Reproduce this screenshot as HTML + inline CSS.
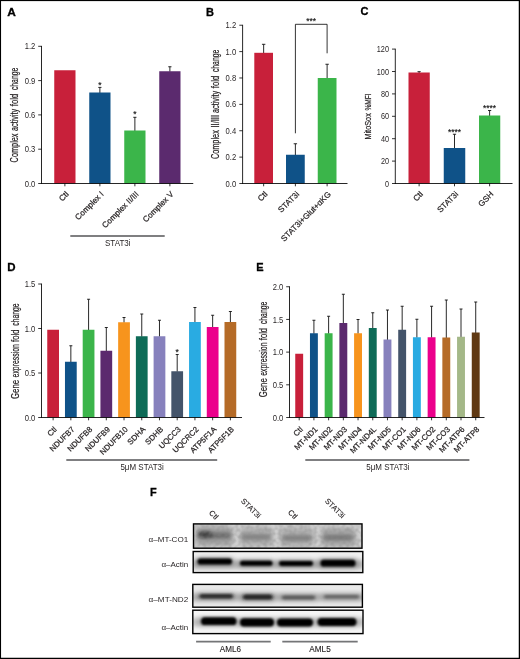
<!DOCTYPE html>
<html lang="en"><head><meta charset="utf-8"><title>Figure</title>
<style>html,body{margin:0;padding:0;background:#fff}svg{display:block}text{font-family:'Liberation Sans', sans-serif}</style>
</head><body>
<svg width="520" height="659" viewBox="0 0 520 659">
<defs>
<filter id="b1" x="-20%" y="-80%" width="140%" height="260%"><feGaussianBlur stdDeviation="1.1 0.9"/></filter>
<filter id="b2" x="-20%" y="-80%" width="140%" height="260%"><feGaussianBlur stdDeviation="2.2 1.8"/></filter>
<filter id="b3" x="-20%" y="-80%" width="140%" height="260%"><feGaussianBlur stdDeviation="1.4 1.0"/></filter>
<filter id="b4" x="-30%" y="-100%" width="160%" height="300%"><feGaussianBlur stdDeviation="2.6 2.2"/></filter>
<filter id="nz" x="0" y="0" width="100%" height="100%"><feTurbulence type="fractalNoise" baseFrequency="0.28" numOctaves="1" seed="11"/><feColorMatrix type="matrix" values="0 0 0 0 0.25  0 0 0 0 0.25  0 0 0 0 0.25  0.9 0 0 0 -0.32"/><feGaussianBlur stdDeviation="0.4"/></filter>
</defs>
<rect x="0" y="0" width="520" height="659" fill="#fff"/>
<text x="7.30" y="15.80" font-size="11" text-anchor="start" font-weight="bold" fill="#000" textLength="8.60" lengthAdjust="spacingAndGlyphs" stroke="#000" stroke-width="0.3">A</text>
<text x="206.00" y="15.80" font-size="11" text-anchor="start" font-weight="bold" fill="#000" stroke="#000" stroke-width="0.3">B</text>
<text x="360.60" y="15.40" font-size="11" text-anchor="start" font-weight="bold" fill="#000" stroke="#000" stroke-width="0.3">C</text>
<text x="7.20" y="270.80" font-size="11" text-anchor="start" font-weight="bold" fill="#000" textLength="8.30" lengthAdjust="spacingAndGlyphs" stroke="#000" stroke-width="0.3">D</text>
<text x="256.30" y="270.80" font-size="11" text-anchor="start" font-weight="bold" fill="#000" stroke="#000" stroke-width="0.3">E</text>
<text x="149.90" y="495.50" font-size="11" text-anchor="start" font-weight="bold" fill="#000" textLength="6.70" lengthAdjust="spacingAndGlyphs" stroke="#000" stroke-width="0.3">F</text>
<line x1="41.50" y1="45.90" x2="41.50" y2="183.90" stroke="#000" stroke-width="0.85"/>
<line x1="38.20" y1="183.50" x2="41.50" y2="183.50" stroke="#000" stroke-width="0.8"/>
<text x="35.30" y="186.60" font-size="8.8" text-anchor="end" font-weight="normal" fill="#231f20" textLength="10.60" lengthAdjust="spacingAndGlyphs">0.0</text>
<line x1="38.20" y1="149.20" x2="41.50" y2="149.20" stroke="#000" stroke-width="0.8"/>
<text x="35.30" y="152.30" font-size="8.8" text-anchor="end" font-weight="normal" fill="#231f20" textLength="10.60" lengthAdjust="spacingAndGlyphs">0.3</text>
<line x1="38.20" y1="114.90" x2="41.50" y2="114.90" stroke="#000" stroke-width="0.8"/>
<text x="35.30" y="118.00" font-size="8.8" text-anchor="end" font-weight="normal" fill="#231f20" textLength="10.60" lengthAdjust="spacingAndGlyphs">0.6</text>
<line x1="38.20" y1="80.60" x2="41.50" y2="80.60" stroke="#000" stroke-width="0.8"/>
<text x="35.30" y="83.70" font-size="8.8" text-anchor="end" font-weight="normal" fill="#231f20" textLength="10.60" lengthAdjust="spacingAndGlyphs">0.9</text>
<line x1="38.20" y1="46.30" x2="41.50" y2="46.30" stroke="#000" stroke-width="0.8"/>
<text x="35.30" y="49.40" font-size="8.8" text-anchor="end" font-weight="normal" fill="#231f20" textLength="10.60" lengthAdjust="spacingAndGlyphs">1.2</text>
<rect x="54.25" y="70.25" width="21.25" height="113.25" fill="#c8203a"/>
<line x1="99.88" y1="87.40" x2="99.88" y2="93.00" stroke="#111" stroke-width="0.9"/>
<line x1="98.28" y1="87.40" x2="101.47" y2="87.40" stroke="#111" stroke-width="0.9"/>
<rect x="89.25" y="92.50" width="21.25" height="91.00" fill="#0f5288"/>
<text x="99.88" y="87.62" font-size="8.4" text-anchor="middle" font-weight="normal" fill="#111" stroke="#111" stroke-width="0.15">*</text>
<line x1="134.88" y1="117.30" x2="134.88" y2="131.00" stroke="#111" stroke-width="0.9"/>
<line x1="133.28" y1="117.30" x2="136.47" y2="117.30" stroke="#111" stroke-width="0.9"/>
<rect x="124.25" y="130.50" width="21.25" height="53.00" fill="#3bb54a"/>
<text x="134.88" y="117.02" font-size="8.4" text-anchor="middle" font-weight="normal" fill="#111" stroke="#111" stroke-width="0.15">*</text>
<line x1="169.88" y1="66.75" x2="169.88" y2="71.75" stroke="#111" stroke-width="0.9"/>
<line x1="168.28" y1="66.75" x2="171.47" y2="66.75" stroke="#111" stroke-width="0.9"/>
<rect x="159.25" y="71.25" width="21.25" height="112.25" fill="#5b2a6e"/>
<line x1="41.10" y1="183.50" x2="193.25" y2="183.50" stroke="#000" stroke-width="0.85"/>
<line x1="64.88" y1="183.50" x2="64.88" y2="186.30" stroke="#000" stroke-width="0.8"/>
<line x1="99.88" y1="183.50" x2="99.88" y2="186.30" stroke="#000" stroke-width="0.8"/>
<line x1="134.88" y1="183.50" x2="134.88" y2="186.30" stroke="#000" stroke-width="0.8"/>
<line x1="169.88" y1="183.50" x2="169.88" y2="186.30" stroke="#000" stroke-width="0.8"/>
<text transform="translate(69.17 194.70) rotate(-45)" font-size="8.15" text-anchor="end" fill="#231f20" stroke="#231f20" stroke-width="0.22">Ctl</text>
<text transform="translate(104.17 194.70) rotate(-45)" font-size="8.15" text-anchor="end" fill="#231f20" stroke="#231f20" stroke-width="0.22">Complex I</text>
<text transform="translate(139.18 194.70) rotate(-45)" font-size="8.15" text-anchor="end" fill="#231f20" stroke="#231f20" stroke-width="0.22">Complex II/III</text>
<text transform="translate(174.18 194.70) rotate(-45)" font-size="8.15" text-anchor="end" fill="#231f20" stroke="#231f20" stroke-width="0.22">Complex V</text>
<line x1="70.30" y1="236.00" x2="164.70" y2="236.00" stroke="#555557" stroke-width="1.7"/>
<text x="117.75" y="246.30" font-size="8.3" text-anchor="middle" font-weight="normal" fill="#231f20" textLength="25.50" lengthAdjust="spacingAndGlyphs">STAT3i</text>
<text transform="translate(17.50 162.40) rotate(-90)" font-size="10" text-anchor="start" fill="#231f20" stroke="#231f20" stroke-width="0.22" textLength="28.90" lengthAdjust="spacingAndGlyphs">Complex</text>
<text transform="translate(17.50 131.00) rotate(-90)" font-size="10" text-anchor="start" fill="#231f20" stroke="#231f20" stroke-width="0.22" textLength="22.10" lengthAdjust="spacingAndGlyphs">activity</text>
<text transform="translate(17.50 106.20) rotate(-90)" font-size="10" text-anchor="start" fill="#231f20" stroke="#231f20" stroke-width="0.22" textLength="12.50" lengthAdjust="spacingAndGlyphs">fold</text>
<text transform="translate(17.50 90.10) rotate(-90)" font-size="10" text-anchor="start" fill="#231f20" stroke="#231f20" stroke-width="0.22" textLength="22.40" lengthAdjust="spacingAndGlyphs">change</text>
<line x1="242.60" y1="24.82" x2="242.60" y2="183.90" stroke="#000" stroke-width="0.85"/>
<line x1="239.30" y1="183.50" x2="242.60" y2="183.50" stroke="#000" stroke-width="0.8"/>
<text x="236.20" y="186.60" font-size="8.8" text-anchor="end" font-weight="normal" fill="#231f20" textLength="10.60" lengthAdjust="spacingAndGlyphs">0.0</text>
<line x1="239.30" y1="157.12" x2="242.60" y2="157.12" stroke="#000" stroke-width="0.8"/>
<text x="236.20" y="160.22" font-size="8.8" text-anchor="end" font-weight="normal" fill="#231f20" textLength="10.60" lengthAdjust="spacingAndGlyphs">0.2</text>
<line x1="239.30" y1="130.74" x2="242.60" y2="130.74" stroke="#000" stroke-width="0.8"/>
<text x="236.20" y="133.84" font-size="8.8" text-anchor="end" font-weight="normal" fill="#231f20" textLength="10.60" lengthAdjust="spacingAndGlyphs">0.4</text>
<line x1="239.30" y1="104.36" x2="242.60" y2="104.36" stroke="#000" stroke-width="0.8"/>
<text x="236.20" y="107.46" font-size="8.8" text-anchor="end" font-weight="normal" fill="#231f20" textLength="10.60" lengthAdjust="spacingAndGlyphs">0.6</text>
<line x1="239.30" y1="77.98" x2="242.60" y2="77.98" stroke="#000" stroke-width="0.8"/>
<text x="236.20" y="81.08" font-size="8.8" text-anchor="end" font-weight="normal" fill="#231f20" textLength="10.60" lengthAdjust="spacingAndGlyphs">0.8</text>
<line x1="239.30" y1="51.60" x2="242.60" y2="51.60" stroke="#000" stroke-width="0.8"/>
<text x="236.20" y="54.70" font-size="8.8" text-anchor="end" font-weight="normal" fill="#231f20" textLength="10.60" lengthAdjust="spacingAndGlyphs">1.0</text>
<line x1="239.30" y1="25.22" x2="242.60" y2="25.22" stroke="#000" stroke-width="0.8"/>
<text x="236.20" y="28.32" font-size="8.8" text-anchor="end" font-weight="normal" fill="#231f20" textLength="10.60" lengthAdjust="spacingAndGlyphs">1.2</text>
<line x1="263.65" y1="44.30" x2="263.65" y2="53.30" stroke="#111" stroke-width="0.9"/>
<line x1="261.95" y1="44.30" x2="265.35" y2="44.30" stroke="#111" stroke-width="0.9"/>
<rect x="254.30" y="52.80" width="18.70" height="130.70" fill="#c8203a"/>
<line x1="295.38" y1="143.75" x2="295.38" y2="155.25" stroke="#111" stroke-width="0.9"/>
<line x1="293.68" y1="143.75" x2="297.07" y2="143.75" stroke="#111" stroke-width="0.9"/>
<rect x="286.00" y="154.75" width="18.75" height="28.75" fill="#0f5288"/>
<line x1="327.12" y1="64.25" x2="327.12" y2="78.50" stroke="#111" stroke-width="0.9"/>
<line x1="325.43" y1="64.25" x2="328.82" y2="64.25" stroke="#111" stroke-width="0.9"/>
<rect x="317.75" y="78.00" width="18.75" height="105.50" fill="#3bb54a"/>
<line x1="242.20" y1="183.50" x2="347.50" y2="183.50" stroke="#000" stroke-width="0.85"/>
<line x1="263.65" y1="183.50" x2="263.65" y2="186.30" stroke="#000" stroke-width="0.8"/>
<line x1="295.38" y1="183.50" x2="295.38" y2="186.30" stroke="#000" stroke-width="0.8"/>
<line x1="327.12" y1="183.50" x2="327.12" y2="186.30" stroke="#000" stroke-width="0.8"/>
<text transform="translate(267.95 194.70) rotate(-45)" font-size="8.15" text-anchor="end" fill="#231f20" stroke="#231f20" stroke-width="0.22">Ctl</text>
<text transform="translate(299.68 194.70) rotate(-45)" font-size="8.15" text-anchor="end" fill="#231f20" stroke="#231f20" stroke-width="0.22">STAT3i</text>
<text transform="translate(331.43 194.70) rotate(-45)" font-size="8.15" text-anchor="end" fill="#231f20" stroke="#231f20" stroke-width="0.22">STAT3i+Glut+αKG</text>
<polyline points="295.4,133.3 295.4,24.3 327.1,24.3 327.1,53.3" fill="none" stroke="#000" stroke-width="0.8"/>
<text x="311.20" y="24.12" font-size="8.4" text-anchor="middle" font-weight="normal" fill="#111" stroke="#111" stroke-width="0.15">***</text>
<text transform="translate(219.20 159.10) rotate(-90)" font-size="10" text-anchor="start" fill="#231f20" stroke="#231f20" stroke-width="0.22" textLength="28.90" lengthAdjust="spacingAndGlyphs">Complex</text>
<text transform="translate(219.20 127.60) rotate(-90)" font-size="10" text-anchor="start" fill="#231f20" stroke="#231f20" stroke-width="0.22" textLength="12.70" lengthAdjust="spacingAndGlyphs">II/III</text>
<text transform="translate(219.20 112.90) rotate(-90)" font-size="10" text-anchor="start" fill="#231f20" stroke="#231f20" stroke-width="0.22" textLength="22.10" lengthAdjust="spacingAndGlyphs">activity</text>
<text transform="translate(219.20 88.20) rotate(-90)" font-size="10" text-anchor="start" fill="#231f20" stroke="#231f20" stroke-width="0.22" textLength="12.50" lengthAdjust="spacingAndGlyphs">fold</text>
<text transform="translate(219.20 72.10) rotate(-90)" font-size="10" text-anchor="start" fill="#231f20" stroke="#231f20" stroke-width="0.22" textLength="22.40" lengthAdjust="spacingAndGlyphs">change</text>
<line x1="395.30" y1="48.70" x2="395.30" y2="183.90" stroke="#000" stroke-width="0.85"/>
<line x1="392.00" y1="183.50" x2="395.30" y2="183.50" stroke="#000" stroke-width="0.8"/>
<text x="389.00" y="186.60" font-size="8.8" text-anchor="end" font-weight="normal" fill="#231f20" textLength="4.00" lengthAdjust="spacingAndGlyphs">0</text>
<line x1="392.00" y1="161.10" x2="395.30" y2="161.10" stroke="#000" stroke-width="0.8"/>
<text x="389.00" y="164.20" font-size="8.8" text-anchor="end" font-weight="normal" fill="#231f20" textLength="8.10" lengthAdjust="spacingAndGlyphs">20</text>
<line x1="392.00" y1="138.70" x2="395.30" y2="138.70" stroke="#000" stroke-width="0.8"/>
<text x="389.00" y="141.80" font-size="8.8" text-anchor="end" font-weight="normal" fill="#231f20" textLength="8.10" lengthAdjust="spacingAndGlyphs">40</text>
<line x1="392.00" y1="116.30" x2="395.30" y2="116.30" stroke="#000" stroke-width="0.8"/>
<text x="389.00" y="119.40" font-size="8.8" text-anchor="end" font-weight="normal" fill="#231f20" textLength="8.10" lengthAdjust="spacingAndGlyphs">60</text>
<line x1="392.00" y1="93.90" x2="395.30" y2="93.90" stroke="#000" stroke-width="0.8"/>
<text x="389.00" y="97.00" font-size="8.8" text-anchor="end" font-weight="normal" fill="#231f20" textLength="8.10" lengthAdjust="spacingAndGlyphs">80</text>
<line x1="392.00" y1="71.50" x2="395.30" y2="71.50" stroke="#000" stroke-width="0.8"/>
<text x="389.00" y="74.60" font-size="8.8" text-anchor="end" font-weight="normal" fill="#231f20" textLength="12.20" lengthAdjust="spacingAndGlyphs">100</text>
<line x1="392.00" y1="49.10" x2="395.30" y2="49.10" stroke="#000" stroke-width="0.8"/>
<text x="389.00" y="52.20" font-size="8.8" text-anchor="end" font-weight="normal" fill="#231f20" textLength="12.20" lengthAdjust="spacingAndGlyphs">120</text>
<line x1="419.12" y1="71.70" x2="419.12" y2="73.00" stroke="#111" stroke-width="0.9"/>
<line x1="417.52" y1="71.70" x2="420.73" y2="71.70" stroke="#111" stroke-width="0.9"/>
<rect x="408.50" y="72.50" width="21.25" height="111.00" fill="#c8203a"/>
<line x1="454.50" y1="134.25" x2="454.50" y2="148.50" stroke="#111" stroke-width="0.9"/>
<line x1="452.90" y1="134.25" x2="456.10" y2="134.25" stroke="#111" stroke-width="0.9"/>
<rect x="443.75" y="148.00" width="21.50" height="35.50" fill="#0f5288"/>
<text x="454.50" y="135.12" font-size="8.4" text-anchor="middle" font-weight="normal" fill="#111" stroke="#111" stroke-width="0.15">****</text>
<line x1="489.62" y1="110.50" x2="489.62" y2="116.00" stroke="#111" stroke-width="0.9"/>
<line x1="488.02" y1="110.50" x2="491.23" y2="110.50" stroke="#111" stroke-width="0.9"/>
<rect x="479.00" y="115.50" width="21.25" height="68.00" fill="#3bb54a"/>
<text x="489.62" y="111.12" font-size="8.4" text-anchor="middle" font-weight="normal" fill="#111" stroke="#111" stroke-width="0.15">****</text>
<line x1="394.90" y1="183.50" x2="512.50" y2="183.50" stroke="#000" stroke-width="0.85"/>
<line x1="419.12" y1="183.50" x2="419.12" y2="186.30" stroke="#000" stroke-width="0.8"/>
<line x1="454.50" y1="183.50" x2="454.50" y2="186.30" stroke="#000" stroke-width="0.8"/>
<line x1="489.62" y1="183.50" x2="489.62" y2="186.30" stroke="#000" stroke-width="0.8"/>
<text transform="translate(423.43 194.70) rotate(-45)" font-size="8.15" text-anchor="end" fill="#231f20" stroke="#231f20" stroke-width="0.22">Ctl</text>
<text transform="translate(458.80 194.70) rotate(-45)" font-size="8.15" text-anchor="end" fill="#231f20" stroke="#231f20" stroke-width="0.22">STAT3i</text>
<text transform="translate(493.93 194.70) rotate(-45)" font-size="8.15" text-anchor="end" fill="#231f20" stroke="#231f20" stroke-width="0.22">GSH</text>
<text transform="translate(370.90 139.60) rotate(-90)" font-size="9.7" text-anchor="start" fill="#231f20" stroke="#231f20" stroke-width="0.22" textLength="26.40" lengthAdjust="spacingAndGlyphs">MitoSox</text>
<text transform="translate(370.90 110.60) rotate(-90)" font-size="9.7" text-anchor="start" fill="#231f20" stroke="#231f20" stroke-width="0.22" textLength="17.30" lengthAdjust="spacingAndGlyphs">%MFI</text>
<line x1="41.50" y1="283.60" x2="41.50" y2="417.90" stroke="#000" stroke-width="0.85"/>
<line x1="38.20" y1="417.50" x2="41.50" y2="417.50" stroke="#000" stroke-width="0.8"/>
<text x="35.30" y="420.60" font-size="8.8" text-anchor="end" font-weight="normal" fill="#231f20" textLength="10.60" lengthAdjust="spacingAndGlyphs">0.0</text>
<line x1="38.20" y1="373.00" x2="41.50" y2="373.00" stroke="#000" stroke-width="0.8"/>
<text x="35.30" y="376.10" font-size="8.8" text-anchor="end" font-weight="normal" fill="#231f20" textLength="10.60" lengthAdjust="spacingAndGlyphs">0.5</text>
<line x1="38.20" y1="328.50" x2="41.50" y2="328.50" stroke="#000" stroke-width="0.8"/>
<text x="35.30" y="331.60" font-size="8.8" text-anchor="end" font-weight="normal" fill="#231f20" textLength="10.60" lengthAdjust="spacingAndGlyphs">1.0</text>
<line x1="38.20" y1="284.00" x2="41.50" y2="284.00" stroke="#000" stroke-width="0.8"/>
<text x="35.30" y="287.10" font-size="8.8" text-anchor="end" font-weight="normal" fill="#231f20" textLength="10.60" lengthAdjust="spacingAndGlyphs">1.5</text>
<rect x="47.25" y="329.75" width="11.75" height="87.75" fill="#c8203a"/>
<line x1="70.85" y1="345.75" x2="70.85" y2="362.25" stroke="#111" stroke-width="0.9"/>
<line x1="69.35" y1="345.75" x2="72.35" y2="345.75" stroke="#111" stroke-width="0.9"/>
<rect x="64.97" y="361.75" width="11.75" height="55.75" fill="#0f5288"/>
<line x1="88.58" y1="299.25" x2="88.58" y2="330.25" stroke="#111" stroke-width="0.9"/>
<line x1="87.08" y1="299.25" x2="90.08" y2="299.25" stroke="#111" stroke-width="0.9"/>
<rect x="82.70" y="329.75" width="11.75" height="87.75" fill="#3bb54a"/>
<line x1="106.30" y1="327.50" x2="106.30" y2="351.25" stroke="#111" stroke-width="0.9"/>
<line x1="104.80" y1="327.50" x2="107.80" y2="327.50" stroke="#111" stroke-width="0.9"/>
<rect x="100.43" y="350.75" width="11.75" height="66.75" fill="#5b2a6e"/>
<line x1="124.03" y1="317.50" x2="124.03" y2="322.75" stroke="#111" stroke-width="0.9"/>
<line x1="122.53" y1="317.50" x2="125.53" y2="317.50" stroke="#111" stroke-width="0.9"/>
<rect x="118.15" y="322.25" width="11.75" height="95.25" fill="#f7941d"/>
<line x1="141.75" y1="314.00" x2="141.75" y2="336.75" stroke="#111" stroke-width="0.9"/>
<line x1="140.25" y1="314.00" x2="143.25" y2="314.00" stroke="#111" stroke-width="0.9"/>
<rect x="135.88" y="336.25" width="11.75" height="81.25" fill="#0e6b57"/>
<line x1="159.48" y1="320.25" x2="159.48" y2="336.75" stroke="#111" stroke-width="0.9"/>
<line x1="157.98" y1="320.25" x2="160.98" y2="320.25" stroke="#111" stroke-width="0.9"/>
<rect x="153.60" y="336.25" width="11.75" height="81.25" fill="#8781bd"/>
<line x1="177.20" y1="354.50" x2="177.20" y2="371.75" stroke="#111" stroke-width="0.9"/>
<line x1="175.70" y1="354.50" x2="178.70" y2="354.50" stroke="#111" stroke-width="0.9"/>
<rect x="171.33" y="371.25" width="11.75" height="46.25" fill="#44546a"/>
<text x="177.20" y="354.62" font-size="8.4" text-anchor="middle" font-weight="normal" fill="#111" stroke="#111" stroke-width="0.15">*</text>
<line x1="194.93" y1="307.50" x2="194.93" y2="322.50" stroke="#111" stroke-width="0.9"/>
<line x1="193.43" y1="307.50" x2="196.43" y2="307.50" stroke="#111" stroke-width="0.9"/>
<rect x="189.05" y="322.00" width="11.75" height="95.50" fill="#29abe2"/>
<line x1="212.65" y1="315.25" x2="212.65" y2="327.50" stroke="#111" stroke-width="0.9"/>
<line x1="211.15" y1="315.25" x2="214.15" y2="315.25" stroke="#111" stroke-width="0.9"/>
<rect x="206.78" y="327.00" width="11.75" height="90.50" fill="#ec008c"/>
<line x1="230.38" y1="311.50" x2="230.38" y2="322.50" stroke="#111" stroke-width="0.9"/>
<line x1="228.88" y1="311.50" x2="231.88" y2="311.50" stroke="#111" stroke-width="0.9"/>
<rect x="224.50" y="322.00" width="11.75" height="95.50" fill="#b56b27"/>
<line x1="41.10" y1="417.50" x2="242.00" y2="417.50" stroke="#000" stroke-width="0.85"/>
<line x1="53.12" y1="417.50" x2="53.12" y2="420.30" stroke="#000" stroke-width="0.8"/>
<line x1="70.85" y1="417.50" x2="70.85" y2="420.30" stroke="#000" stroke-width="0.8"/>
<line x1="88.58" y1="417.50" x2="88.58" y2="420.30" stroke="#000" stroke-width="0.8"/>
<line x1="106.30" y1="417.50" x2="106.30" y2="420.30" stroke="#000" stroke-width="0.8"/>
<line x1="124.03" y1="417.50" x2="124.03" y2="420.30" stroke="#000" stroke-width="0.8"/>
<line x1="141.75" y1="417.50" x2="141.75" y2="420.30" stroke="#000" stroke-width="0.8"/>
<line x1="159.48" y1="417.50" x2="159.48" y2="420.30" stroke="#000" stroke-width="0.8"/>
<line x1="177.20" y1="417.50" x2="177.20" y2="420.30" stroke="#000" stroke-width="0.8"/>
<line x1="194.93" y1="417.50" x2="194.93" y2="420.30" stroke="#000" stroke-width="0.8"/>
<line x1="212.65" y1="417.50" x2="212.65" y2="420.30" stroke="#000" stroke-width="0.8"/>
<line x1="230.38" y1="417.50" x2="230.38" y2="420.30" stroke="#000" stroke-width="0.8"/>
<text transform="translate(57.33 429.90) rotate(-45)" font-size="7.85" text-anchor="end" fill="#231f20" stroke="#231f20" stroke-width="0.22">Ctl</text>
<text transform="translate(75.05 429.90) rotate(-45)" font-size="7.85" text-anchor="end" fill="#231f20" stroke="#231f20" stroke-width="0.22">NDUFB7</text>
<text transform="translate(92.78 429.90) rotate(-45)" font-size="7.85" text-anchor="end" fill="#231f20" stroke="#231f20" stroke-width="0.22">NDUFB8</text>
<text transform="translate(110.50 429.90) rotate(-45)" font-size="7.85" text-anchor="end" fill="#231f20" stroke="#231f20" stroke-width="0.22">NDUFB9</text>
<text transform="translate(128.22 429.90) rotate(-45)" font-size="7.85" text-anchor="end" fill="#231f20" stroke="#231f20" stroke-width="0.22">NDUFB10</text>
<text transform="translate(145.95 429.90) rotate(-45)" font-size="7.85" text-anchor="end" fill="#231f20" stroke="#231f20" stroke-width="0.22">SDHA</text>
<text transform="translate(163.68 429.90) rotate(-45)" font-size="7.85" text-anchor="end" fill="#231f20" stroke="#231f20" stroke-width="0.22">SDHB</text>
<text transform="translate(181.40 429.90) rotate(-45)" font-size="7.85" text-anchor="end" fill="#231f20" stroke="#231f20" stroke-width="0.22">UQCC3</text>
<text transform="translate(199.12 429.90) rotate(-45)" font-size="7.85" text-anchor="end" fill="#231f20" stroke="#231f20" stroke-width="0.22">UQCRC2</text>
<text transform="translate(216.85 429.90) rotate(-45)" font-size="7.85" text-anchor="end" fill="#231f20" stroke="#231f20" stroke-width="0.22">ATP5F1A</text>
<text transform="translate(234.57 429.90) rotate(-45)" font-size="7.85" text-anchor="end" fill="#231f20" stroke="#231f20" stroke-width="0.22">ATP5F1B</text>
<line x1="66.30" y1="460.00" x2="217.20" y2="460.00" stroke="#555557" stroke-width="1.7"/>
<text x="142.10" y="470.10" font-size="8.3" text-anchor="middle" font-weight="normal" fill="#231f20" textLength="43.30" lengthAdjust="spacingAndGlyphs">5μM STAT3i</text>
<text transform="translate(19.20 399.00) rotate(-90)" font-size="10" text-anchor="start" fill="#231f20" stroke="#231f20" stroke-width="0.22" textLength="19.10" lengthAdjust="spacingAndGlyphs">Gene</text>
<text transform="translate(19.20 377.40) rotate(-90)" font-size="10" text-anchor="start" fill="#231f20" stroke="#231f20" stroke-width="0.22" textLength="33.20" lengthAdjust="spacingAndGlyphs">expression</text>
<text transform="translate(19.20 341.90) rotate(-90)" font-size="10" text-anchor="start" fill="#231f20" stroke="#231f20" stroke-width="0.22" textLength="12.30" lengthAdjust="spacingAndGlyphs">fold</text>
<text transform="translate(19.20 325.80) rotate(-90)" font-size="10" text-anchor="start" fill="#231f20" stroke="#231f20" stroke-width="0.22" textLength="22.40" lengthAdjust="spacingAndGlyphs">change</text>
<line x1="289.50" y1="286.34" x2="289.50" y2="417.90" stroke="#000" stroke-width="0.85"/>
<line x1="286.20" y1="417.50" x2="289.50" y2="417.50" stroke="#000" stroke-width="0.8"/>
<text x="283.30" y="420.60" font-size="8.8" text-anchor="end" font-weight="normal" fill="#231f20" textLength="10.60" lengthAdjust="spacingAndGlyphs">0.0</text>
<line x1="286.20" y1="384.81" x2="289.50" y2="384.81" stroke="#000" stroke-width="0.8"/>
<text x="283.30" y="387.91" font-size="8.8" text-anchor="end" font-weight="normal" fill="#231f20" textLength="10.60" lengthAdjust="spacingAndGlyphs">0.5</text>
<line x1="286.20" y1="352.12" x2="289.50" y2="352.12" stroke="#000" stroke-width="0.8"/>
<text x="283.30" y="355.22" font-size="8.8" text-anchor="end" font-weight="normal" fill="#231f20" textLength="10.60" lengthAdjust="spacingAndGlyphs">1.0</text>
<line x1="286.20" y1="319.43" x2="289.50" y2="319.43" stroke="#000" stroke-width="0.8"/>
<text x="283.30" y="322.53" font-size="8.8" text-anchor="end" font-weight="normal" fill="#231f20" textLength="10.60" lengthAdjust="spacingAndGlyphs">1.5</text>
<line x1="286.20" y1="286.74" x2="289.50" y2="286.74" stroke="#000" stroke-width="0.8"/>
<text x="283.30" y="289.84" font-size="8.8" text-anchor="end" font-weight="normal" fill="#231f20" textLength="10.60" lengthAdjust="spacingAndGlyphs">2.0</text>
<rect x="295.25" y="353.75" width="7.90" height="63.75" fill="#c8203a"/>
<line x1="313.91" y1="320.25" x2="313.91" y2="333.75" stroke="#111" stroke-width="0.9"/>
<line x1="312.41" y1="320.25" x2="315.41" y2="320.25" stroke="#111" stroke-width="0.9"/>
<rect x="309.96" y="333.25" width="7.90" height="84.25" fill="#0f5288"/>
<line x1="328.62" y1="316.25" x2="328.62" y2="333.75" stroke="#111" stroke-width="0.9"/>
<line x1="327.12" y1="316.25" x2="330.12" y2="316.25" stroke="#111" stroke-width="0.9"/>
<rect x="324.67" y="333.25" width="7.90" height="84.25" fill="#3bb54a"/>
<line x1="343.33" y1="294.25" x2="343.33" y2="323.50" stroke="#111" stroke-width="0.9"/>
<line x1="341.83" y1="294.25" x2="344.83" y2="294.25" stroke="#111" stroke-width="0.9"/>
<rect x="339.38" y="323.00" width="7.90" height="94.50" fill="#5b2a6e"/>
<line x1="358.04" y1="319.50" x2="358.04" y2="333.75" stroke="#111" stroke-width="0.9"/>
<line x1="356.54" y1="319.50" x2="359.54" y2="319.50" stroke="#111" stroke-width="0.9"/>
<rect x="354.09" y="333.25" width="7.90" height="84.25" fill="#f7941d"/>
<line x1="372.75" y1="312.75" x2="372.75" y2="328.50" stroke="#111" stroke-width="0.9"/>
<line x1="371.25" y1="312.75" x2="374.25" y2="312.75" stroke="#111" stroke-width="0.9"/>
<rect x="368.80" y="328.00" width="7.90" height="89.50" fill="#0e6b57"/>
<line x1="387.46" y1="310.00" x2="387.46" y2="340.00" stroke="#111" stroke-width="0.9"/>
<line x1="385.96" y1="310.00" x2="388.96" y2="310.00" stroke="#111" stroke-width="0.9"/>
<rect x="383.51" y="339.50" width="7.90" height="78.00" fill="#8781bd"/>
<line x1="402.17" y1="306.25" x2="402.17" y2="330.25" stroke="#111" stroke-width="0.9"/>
<line x1="400.67" y1="306.25" x2="403.67" y2="306.25" stroke="#111" stroke-width="0.9"/>
<rect x="398.22" y="329.75" width="7.90" height="87.75" fill="#44546a"/>
<line x1="416.88" y1="319.25" x2="416.88" y2="337.75" stroke="#111" stroke-width="0.9"/>
<line x1="415.38" y1="319.25" x2="418.38" y2="319.25" stroke="#111" stroke-width="0.9"/>
<rect x="412.93" y="337.25" width="7.90" height="80.25" fill="#29abe2"/>
<line x1="431.59" y1="306.25" x2="431.59" y2="337.75" stroke="#111" stroke-width="0.9"/>
<line x1="430.09" y1="306.25" x2="433.09" y2="306.25" stroke="#111" stroke-width="0.9"/>
<rect x="427.64" y="337.25" width="7.90" height="80.25" fill="#ec008c"/>
<line x1="446.30" y1="300.00" x2="446.30" y2="338.00" stroke="#111" stroke-width="0.9"/>
<line x1="444.80" y1="300.00" x2="447.80" y2="300.00" stroke="#111" stroke-width="0.9"/>
<rect x="442.35" y="337.50" width="7.90" height="80.00" fill="#b56b27"/>
<line x1="461.01" y1="309.00" x2="461.01" y2="337.25" stroke="#111" stroke-width="0.9"/>
<line x1="459.51" y1="309.00" x2="462.51" y2="309.00" stroke="#111" stroke-width="0.9"/>
<rect x="457.06" y="336.75" width="7.90" height="80.75" fill="#a4b888"/>
<line x1="475.72" y1="302.00" x2="475.72" y2="333.00" stroke="#111" stroke-width="0.9"/>
<line x1="474.22" y1="302.00" x2="477.22" y2="302.00" stroke="#111" stroke-width="0.9"/>
<rect x="471.77" y="332.50" width="7.90" height="85.00" fill="#603913"/>
<line x1="289.10" y1="417.50" x2="484.50" y2="417.50" stroke="#000" stroke-width="0.85"/>
<line x1="299.20" y1="417.50" x2="299.20" y2="420.30" stroke="#000" stroke-width="0.8"/>
<line x1="313.91" y1="417.50" x2="313.91" y2="420.30" stroke="#000" stroke-width="0.8"/>
<line x1="328.62" y1="417.50" x2="328.62" y2="420.30" stroke="#000" stroke-width="0.8"/>
<line x1="343.33" y1="417.50" x2="343.33" y2="420.30" stroke="#000" stroke-width="0.8"/>
<line x1="358.04" y1="417.50" x2="358.04" y2="420.30" stroke="#000" stroke-width="0.8"/>
<line x1="372.75" y1="417.50" x2="372.75" y2="420.30" stroke="#000" stroke-width="0.8"/>
<line x1="387.46" y1="417.50" x2="387.46" y2="420.30" stroke="#000" stroke-width="0.8"/>
<line x1="402.17" y1="417.50" x2="402.17" y2="420.30" stroke="#000" stroke-width="0.8"/>
<line x1="416.88" y1="417.50" x2="416.88" y2="420.30" stroke="#000" stroke-width="0.8"/>
<line x1="431.59" y1="417.50" x2="431.59" y2="420.30" stroke="#000" stroke-width="0.8"/>
<line x1="446.30" y1="417.50" x2="446.30" y2="420.30" stroke="#000" stroke-width="0.8"/>
<line x1="461.01" y1="417.50" x2="461.01" y2="420.30" stroke="#000" stroke-width="0.8"/>
<line x1="475.72" y1="417.50" x2="475.72" y2="420.30" stroke="#000" stroke-width="0.8"/>
<text transform="translate(303.40 429.90) rotate(-45)" font-size="7.85" text-anchor="end" fill="#231f20" stroke="#231f20" stroke-width="0.22">Ctl</text>
<text transform="translate(318.11 429.90) rotate(-45)" font-size="7.85" text-anchor="end" fill="#231f20" stroke="#231f20" stroke-width="0.22">MT-ND1</text>
<text transform="translate(332.82 429.90) rotate(-45)" font-size="7.85" text-anchor="end" fill="#231f20" stroke="#231f20" stroke-width="0.22">MT-ND2</text>
<text transform="translate(347.53 429.90) rotate(-45)" font-size="7.85" text-anchor="end" fill="#231f20" stroke="#231f20" stroke-width="0.22">MT-ND3</text>
<text transform="translate(362.24 429.90) rotate(-45)" font-size="7.85" text-anchor="end" fill="#231f20" stroke="#231f20" stroke-width="0.22">MT-ND4</text>
<text transform="translate(376.95 429.90) rotate(-45)" font-size="7.85" text-anchor="end" fill="#231f20" stroke="#231f20" stroke-width="0.22">MT-ND4L</text>
<text transform="translate(391.66 429.90) rotate(-45)" font-size="7.85" text-anchor="end" fill="#231f20" stroke="#231f20" stroke-width="0.22">MT-ND5</text>
<text transform="translate(406.37 429.90) rotate(-45)" font-size="7.85" text-anchor="end" fill="#231f20" stroke="#231f20" stroke-width="0.22">MT-CO1</text>
<text transform="translate(421.08 429.90) rotate(-45)" font-size="7.85" text-anchor="end" fill="#231f20" stroke="#231f20" stroke-width="0.22">MT-ND6</text>
<text transform="translate(435.79 429.90) rotate(-45)" font-size="7.85" text-anchor="end" fill="#231f20" stroke="#231f20" stroke-width="0.22">MT-CO2</text>
<text transform="translate(450.50 429.90) rotate(-45)" font-size="7.85" text-anchor="end" fill="#231f20" stroke="#231f20" stroke-width="0.22">MT-CO3</text>
<text transform="translate(465.21 429.90) rotate(-45)" font-size="7.85" text-anchor="end" fill="#231f20" stroke="#231f20" stroke-width="0.22">MT-ATP6</text>
<text transform="translate(479.92 429.90) rotate(-45)" font-size="7.85" text-anchor="end" fill="#231f20" stroke="#231f20" stroke-width="0.22">MT-ATP8</text>
<line x1="305.30" y1="460.00" x2="469.40" y2="460.00" stroke="#555557" stroke-width="1.7"/>
<text x="387.90" y="470.10" font-size="8.3" text-anchor="middle" font-weight="normal" fill="#231f20" textLength="43.30" lengthAdjust="spacingAndGlyphs">5μM STAT3i</text>
<text transform="translate(267.10 397.30) rotate(-90)" font-size="10" text-anchor="start" fill="#231f20" stroke="#231f20" stroke-width="0.22" textLength="19.10" lengthAdjust="spacingAndGlyphs">Gene</text>
<text transform="translate(267.10 375.70) rotate(-90)" font-size="10" text-anchor="start" fill="#231f20" stroke="#231f20" stroke-width="0.22" textLength="33.20" lengthAdjust="spacingAndGlyphs">expression</text>
<text transform="translate(267.10 340.20) rotate(-90)" font-size="10" text-anchor="start" fill="#231f20" stroke="#231f20" stroke-width="0.22" textLength="12.30" lengthAdjust="spacingAndGlyphs">fold</text>
<text transform="translate(267.10 324.10) rotate(-90)" font-size="10" text-anchor="start" fill="#231f20" stroke="#231f20" stroke-width="0.22" textLength="22.40" lengthAdjust="spacingAndGlyphs">change</text>
<clipPath id="c1"><rect x="193.5" y="523.9" width="168.5" height="24.300000000000068"/></clipPath>
<rect x="193.5" y="523.9" width="168.5" height="24.300000000000068" fill="#d3d3d3"/>
<g clip-path="url(#c1)">
<g filter="url(#b4)">
<rect x="196.0" y="526.50" width="37.0" height="19.00" rx="4.00" fill="#8a8a8a" opacity="0.7"/>
<rect x="240.0" y="527.00" width="33.0" height="19.00" rx="4.00" fill="#969696" opacity="0.62"/>
<rect x="280.0" y="527.50" width="34.0" height="19.00" rx="4.00" fill="#969696" opacity="0.62"/>
<rect x="321.0" y="527.50" width="35.0" height="19.00" rx="4.00" fill="#8e8e8e" opacity="0.66"/>
</g>
<g filter="url(#b2)">
<rect x="198.0" y="532.25" width="33.0" height="6.50" rx="3.25" fill="#505050" opacity="0.6"/>
<rect x="198.0" y="530.75" width="14.0" height="7.50" rx="3.75" fill="#1a1a1a" opacity="0.55"/>
<rect x="241.0" y="534.00" width="30.0" height="6.00" rx="3.00" fill="#606060" opacity="0.5"/>
<rect x="282.0" y="535.00" width="30.0" height="6.00" rx="3.00" fill="#606060" opacity="0.55"/>
<rect x="323.0" y="534.50" width="30.0" height="6.00" rx="3.00" fill="#585858" opacity="0.55"/>
</g>
<g filter="url(#nz)">
<rect x="193.5" y="523.85" width="168.5" height="24.30" rx="4.00" fill="#000" opacity="1"/>
</g>
</g>
<rect x="193.5" y="523.9" width="168.5" height="24.300000000000068" fill="none" stroke="#000" stroke-width="1.4"/>
<clipPath id="c2"><rect x="193.2" y="551.5" width="169.60000000000002" height="21.100000000000023"/></clipPath>
<rect x="193.2" y="551.5" width="169.60000000000002" height="21.100000000000023" fill="#efefef"/>
<g clip-path="url(#c2)">
<g filter="url(#b4)">
<rect x="190.0" y="560.00" width="176.0" height="9.00" rx="4.00" fill="#8a8a8a" opacity="0.55"/>
<rect x="195.0" y="557.50" width="39.0" height="9.00" rx="4.00" fill="#707070" opacity="0.7"/>
<rect x="238.0" y="559.50" width="36.0" height="8.00" rx="4.00" fill="#707070" opacity="0.65"/>
<rect x="277.0" y="559.80" width="38.0" height="8.00" rx="4.00" fill="#707070" opacity="0.65"/>
<rect x="318.0" y="558.50" width="40.0" height="10.00" rx="4.00" fill="#707070" opacity="0.7"/>
</g>
<g filter="url(#b1)">
<rect x="197.5" y="558.40" width="34.5" height="6.20" rx="3.10" fill="#000" opacity="1"/>
<rect x="240.0" y="560.70" width="32.5" height="5.00" rx="2.50" fill="#000" opacity="1"/>
<rect x="279.0" y="561.10" width="34.0" height="4.80" rx="2.40" fill="#000" opacity="1"/>
<rect x="320.5" y="559.80" width="35.0" height="6.80" rx="3.40" fill="#000" opacity="1"/>
</g>
</g>
<rect x="193.2" y="551.5" width="169.60000000000002" height="21.100000000000023" fill="none" stroke="#000" stroke-width="1.4"/>
<clipPath id="c3"><rect x="192.8" y="584.4" width="169.59999999999997" height="22.800000000000068"/></clipPath>
<rect x="192.8" y="584.4" width="169.59999999999997" height="22.800000000000068" fill="#e9e9e9"/>
<g clip-path="url(#c3)">
<g filter="url(#b4)">
<rect x="188.0" y="593.20" width="180.0" height="8.00" rx="4.00" fill="#8c8c8c" opacity="0.55"/>
<rect x="196.0" y="592.50" width="40.0" height="8.00" rx="4.00" fill="#808080" opacity="0.7"/>
<rect x="240.0" y="592.80" width="35.0" height="9.00" rx="4.00" fill="#808080" opacity="0.75"/>
<rect x="279.0" y="593.50" width="39.0" height="8.00" rx="4.00" fill="#8c8c8c" opacity="0.6"/>
<rect x="321.0" y="593.00" width="40.0" height="8.00" rx="4.00" fill="#8c8c8c" opacity="0.6"/>
</g>
<g filter="url(#b3)">
<rect x="199.5" y="593.90" width="33.5" height="4.60" rx="2.30" fill="#2e2e2e" opacity="1"/>
<rect x="243.0" y="594.50" width="29.5" height="5.00" rx="2.50" fill="#262626" opacity="1"/>
<rect x="282.0" y="595.40" width="33.0" height="4.00" rx="2.00" fill="#5c5c5c" opacity="1"/>
<rect x="324.0" y="595.00" width="35.0" height="3.60" rx="1.80" fill="#686868" opacity="1"/>
</g>
</g>
<rect x="192.8" y="584.4" width="169.59999999999997" height="22.800000000000068" fill="none" stroke="#000" stroke-width="1.4"/>
<clipPath id="c4"><rect x="192.8" y="610.2" width="170.2" height="23.399999999999977"/></clipPath>
<rect x="192.8" y="610.2" width="170.2" height="23.399999999999977" fill="#f6f6f6"/>
<g clip-path="url(#c4)">
<g filter="url(#b4)">
<rect x="190.0" y="617.70" width="176.0" height="9.00" rx="4.00" fill="#909090" opacity="0.5"/>
<rect x="198.0" y="616.40" width="40.0" height="10.00" rx="4.00" fill="#888" opacity="0.55"/>
<rect x="239.0" y="617.60" width="36.0" height="10.00" rx="4.00" fill="#888" opacity="0.55"/>
<rect x="276.0" y="617.60" width="38.0" height="10.00" rx="4.00" fill="#888" opacity="0.55"/>
<rect x="316.0" y="617.20" width="42.0" height="10.00" rx="4.00" fill="#888" opacity="0.55"/>
</g>
<g filter="url(#b1)">
<rect x="201.0" y="617.30" width="35.5" height="7.80" rx="3.90" fill="#000" opacity="1"/>
<rect x="240.0" y="618.30" width="34.0" height="8.20" rx="4.00" fill="#000" opacity="1"/>
<rect x="277.0" y="618.40" width="36.0" height="8.00" rx="4.00" fill="#000" opacity="1"/>
<rect x="317.5" y="618.00" width="39.0" height="8.00" rx="4.00" fill="#000" opacity="1"/>
</g>
</g>
<rect x="192.8" y="610.2" width="170.2" height="23.399999999999977" fill="none" stroke="#000" stroke-width="1.4"/>
<text x="188.20" y="542.10" font-size="8.1" text-anchor="end" font-weight="normal" fill="#231f20" textLength="39.60" lengthAdjust="spacingAndGlyphs">α–MT-CO1</text>
<text x="188.20" y="567.30" font-size="8.1" text-anchor="end" font-weight="normal" fill="#231f20" textLength="26.80" lengthAdjust="spacingAndGlyphs">α–Actin</text>
<text x="188.20" y="602.30" font-size="8.1" text-anchor="end" font-weight="normal" fill="#231f20" textLength="39.60" lengthAdjust="spacingAndGlyphs">α–MT-ND2</text>
<text x="188.20" y="629.60" font-size="8.1" text-anchor="end" font-weight="normal" fill="#231f20" textLength="26.80" lengthAdjust="spacingAndGlyphs">α–Actin</text>
<text transform="translate(208.60 513.30) rotate(45)" font-size="7.7" text-anchor="start" fill="#231f20" stroke="#231f20" stroke-width="0.1">Ctl</text>
<text transform="translate(240.40 501.40) rotate(45)" font-size="7.7" text-anchor="start" fill="#231f20" stroke="#231f20" stroke-width="0.1">STAT3i</text>
<text transform="translate(287.60 512.80) rotate(45)" font-size="7.7" text-anchor="start" fill="#231f20" stroke="#231f20" stroke-width="0.1">Ctl</text>
<text transform="translate(324.40 501.40) rotate(45)" font-size="7.7" text-anchor="start" fill="#231f20" stroke="#231f20" stroke-width="0.1">STAT3i</text>
<line x1="196.10" y1="641.70" x2="270.70" y2="641.70" stroke="#747577" stroke-width="1.7"/>
<line x1="282.30" y1="641.70" x2="357.70" y2="641.70" stroke="#747577" stroke-width="1.7"/>
<text x="230.40" y="652.30" font-size="8.2" text-anchor="middle" font-weight="normal" fill="#231f20" textLength="21.20" lengthAdjust="spacingAndGlyphs" stroke="#231f20" stroke-width="0.12">AML6</text>
<text x="320.00" y="652.30" font-size="8.2" text-anchor="middle" font-weight="normal" fill="#231f20" textLength="21.40" lengthAdjust="spacingAndGlyphs" stroke="#231f20" stroke-width="0.12">AML5</text>
<rect x="0" y="0" width="520" height="1.1" fill="#000"/>
<rect x="0" y="0" width="1.05" height="659" fill="#000"/>
<rect x="518.75" y="0" width="1.25" height="659" fill="#000"/>
<rect x="0" y="657.75" width="520" height="1.25" fill="#000"/>
</svg></body></html>
